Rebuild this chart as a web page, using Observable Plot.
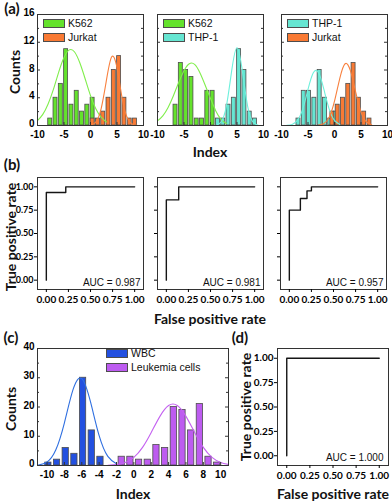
<!DOCTYPE html>
<html><head><meta charset="utf-8">
<script src="https://cdn.jsdelivr.net/npm/d3@7"></script>
<script src="https://cdn.jsdelivr.net/npm/@observablehq/plot@0.6"></script>
<style>
html,body{margin:0;padding:0;background:#fff;}
#fig{position:relative;width:392px;height:502px;overflow:hidden;background:#fff;}
#fig svg{position:absolute;left:0;top:0;}
.leg{position:absolute;font-family:'Liberation Sans',Arial,sans-serif;font-size:10.5px;color:#111;white-space:nowrap;line-height:1;}
.sw{position:absolute;box-sizing:border-box;border:1px solid #4d4d4d;}
</style></head><body><div id="fig"></div>
<script>
// ---------- DATA ----------
// (a) histograms: bin centres and counts
const a1K562Bins = [-7.6, -6.6, -5.6, -4.6, -3.6, -2.6, -1.6, -0.6, 0.4];
const a1K562 = [1, 4, 6, 11, 3, 5, 2, 3, 4];
const a1JurkatBins = [0.4, 1.4, 2.4, 3.4, 4.4, 5.4, 6.4, 7.4, 8.4];
const a1Jurkat = [1, 1, 2, 4, 8, 10, 4, 1, 1];
const a2K562Bins = [-6.6, -5.6, -4.6, -3.6, -2.6, -1.6, -0.6, 0.4];
const a2K562 = [3, 9, 8, 7, 1, 1, 5, 5];
const a2THPBins = [1.4, 2.4, 3.4, 4.4, 5.4, 6.4, 7.4, 8.4];
const a2THP = [1, 1, 3, 4, 11, 8, 2, 1];
const a3THPBins = [-6.8, -5.8, -4.8, -3.8, -2.8, -1.8, -0.8, 0.2];
const a3THP = [1, 5, 5, 4, 8, 4, 1, 2];
const a3JurkatBins = [-0.4, 0.6, 1.6, 2.6, 3.6, 4.6, 5.6, 6.6];
const a3Jurkat = [2, 3, 4, 6, 9, 4, 2, 1];
// (a) fitted curves
const a1K562FitX = [-10, -9, -8, -7, -6, -5, -4, -3, -2, -1, 0, 1, 2, 3];
const a1K562FitY = [0.7, 1.6, 3.1, 5.2, 7.7, 9.8, 10.9, 10.6, 9.0, 6.7, 4.3, 2.4, 1.2, 0.5];
const a1JurkatFitX = [0, 1, 2, 3, 4, 5, 6, 7, 8, 9];
const a1JurkatFitY = [0.06, 0.5, 2.4, 6.5, 9.9, 8.3, 3.8, 1.0, 0.15, 0.01];
const a2K562FitX = [-10, -9, -8, -7, -6, -5, -4, -3, -2, -1, 0, 1, 2, 3];
const a2K562FitY = [0.66, 1.4, 2.6, 4.3, 6.2, 7.9, 8.9, 8.8, 7.6, 5.8, 3.9, 2.1, 0.9, 0.3];
const a2THPFitX = [1, 2, 3, 4, 5, 6, 7, 8, 9];
const a2THPFitY = [0.04, 0.5, 2.8, 7.9, 11.2, 7.9, 2.8, 0.5, 0.04];
const a3THPFitX = [-9, -8, -7, -6, -5, -4, -3, -2, -1, 0, 1];
const a3THPFitY = [0.02, 0.15, 0.73, 2.36, 5.2, 7.6, 7.6, 5.2, 2.36, 0.73, 0.15];
const a3JurkatFitX = [-3, -2, -1, 0, 1, 2, 3, 4, 5, 6, 7];
const a3JurkatFitY = [0.05, 0.29, 1.2, 3.5, 6.8, 8.9, 7.9, 4.8, 1.95, 0.54, 0.1];
const aLegend = [["K562", "Jurkat"], ["K562", "THP-1"], ["THP-1", "Jurkat"]];
const aXTicks = [-10, -5, 0, 5, 10];
const aYTicks = [0, 4, 8, 12, 16];
const aYMinor = [2, 6, 10, 14];
// (b) ROC curves
const b1FPR = [0, 0, 0.22, 0.22, 1];
const b1TPR = [0, 0.94, 0.94, 1, 1];
const b2FPR = [0, 0, 0.14, 0.14, 1];
const b2TPR = [0, 0.86, 0.86, 1, 1];
const b3FPR = [0, 0, 0.125, 0.125, 0.2, 0.2, 0.25, 0.25, 1];
const b3TPR = [0, 0.75, 0.75, 0.875, 0.875, 0.957, 0.957, 1, 1];
const bAUC = ["0.987", "0.981", "0.957"];
const rocTicks = [0, 0.25, 0.5, 0.75, 1];
// (c) WBC vs leukemia
const cWBCBins = [-9.85, -8.85, -7.85, -6.85, -5.85, -4.85, -3.85];
const cWBC = [1, 2, 6, 4, 30, 12, 3];
const cLeukBins = [-1.4, -0.4, 0.6, 1.6, 2.6, 3.6, 4.6, 5.6, 6.6, 7.6, 8.6, 9.6];
const cLeuk = [3, 3, 2, 2, 7, 6, 20, 19, 12, 21, 3, 1];
const cWBCFitX = [-11, -10, -9, -8, -7, -6, -5, -4, -3, -2];
const cWBCFitY = [0.18, 1.2, 5.3, 14.6, 26, 29.7, 21.8, 10.2, 3.1, 0.6];
const cLeukFitX = [-3, -2, -1, 0, 1, 2, 3, 4, 5, 6, 7, 8, 9, 10, 11];
const cLeukFitY = [0.08, 0.31, 1.04, 2.8, 6.2, 11.3, 16.8, 20.5, 20.5, 16.8, 11.3, 6.2, 2.8, 1.04, 0.31];
const cLegend = ["WBC", "Leukemia cells"];
const cXTicks = [-10, -8, -6, -4, -2, 0, 2, 4, 6, 8, 10];
const cYTicks = [0, 10, 20, 30, 40];
const cYMinor = [5, 15, 25, 35];
// (d) ROC
const dFPR = [0, 0, 1];
const dTPR = [0, 1, 1];
const dAUC = "1.000";
// titles
const panelLetters = ["(a)", "(b)", "(c)", "(d)"];
const axisTitles = {counts: "Counts", index: "Index", tpr: "True positive rate", fpr: "False positive rate"};

// ---------- COLOURS ----------
const C = {
  green: "#64e22c", greenLine: "#80ee4c",
  orange: "#f97a34", orangeLine: "#f8803e",
  cyan: "#66e6d2", cyanLine: "#6ef0dc",
  blue: "#2350e0", blueLine: "#2f6fe0",
  purple: "#bd5cf0", purpleLine: "#c462f0"
};

// ---------- LAYOUT ----------
const W = 392, H = 502;
const fig = document.getElementById("fig");
function frameOpts(f) {
  return {width: W, height: H, marginLeft: f[0], marginRight: W - f[1], marginTop: f[2], marginBottom: H - f[3]};
}
const TICKFONT = "'Liberation Sans', Arial, sans-serif";
const zip = (xs, ys) => xs.map((x, i) => ({x, y: ys[i]}));

function histPanel(fr, cfg) {
  const fw = fr[1] - fr[0], fh = fr[3] - fr[2];
  const marks = [];
  cfg.series.forEach(s => {
    marks.push(Plot.rect(zip(s.bins, s.counts), {
      x1: d => d.x - cfg.barW / 2, x2: d => d.x + cfg.barW / 2, y1: 0, y2: "y",
      fill: s.color, stroke: "#4d4d4d", strokeWidth: 0.8
    }));
  });
  cfg.curves.forEach(c => {
    marks.push(Plot.line(zip(c.xs, c.ys), {x: "x", y: "y", stroke: c.color, strokeWidth: 1.1, curve: "natural", clip: true}));
  });
  marks.push(Plot.tickY(cfg.yTicks, {y: d => d, insetRight: fw - 3, stroke: "#333"}));
  marks.push(Plot.tickY(cfg.yTicks, {y: d => d, insetLeft: fw - 3, stroke: "#333"}));
  marks.push(Plot.tickY(cfg.yMinor, {y: d => d, insetRight: fw - 2, stroke: "#333"}));
  marks.push(Plot.tickY(cfg.yMinor, {y: d => d, insetLeft: fw - 2, stroke: "#333"}));
  marks.push(Plot.tickX(cfg.xTicks, {x: d => d, insetTop: fh - 3, stroke: "#333"}));
  marks.push(Plot.frame({stroke: "#333", strokeWidth: 1}));
  marks.push(Plot.axisX(cfg.xTicks, {tickSize: 0, tickPadding: 5.5, label: null, tickFormat: d => String(d),
    fontSize: 10, fontWeight: "bold", fontFamily: TICKFONT}));
  if (cfg.showY) marks.push(Plot.axisY(cfg.yTicks, {tickSize: 0, tickPadding: 3, dy: -1.5, label: null, tickFormat: d => String(d),
    fontSize: 10, fontWeight: "bold", fontFamily: TICKFONT}));
  const yOpt = {domain: cfg.yDomain, label: null};
  if (!cfg.showY) yOpt.axis = null;
  const svg = Plot.plot({...frameOpts(fr), x: {domain: cfg.xDomain, label: null}, y: yOpt, marks,
    style: {background: "transparent", overflow: "visible"}});
  fig.appendChild(svg);
}

function rocPanel(fr, cfg) {
  const marks = [
    Plot.frame({stroke: "#333", strokeWidth: 1}),
    Plot.line(zip(cfg.fpr, cfg.tpr), {x: "x", y: "y", stroke: "#151515", strokeWidth: 1.4}),
    Plot.text([cfg.auc], {text: d => `AUC = ${d}`, frameAnchor: "bottom-right", dx: cfg.dx, dy: cfg.dy,
      fontSize: 10, fontFamily: "'Liberation Sans Narrow', 'Arial Narrow', sans-serif", fill: "#111"}),
    Plot.axisX(rocTicks, {tickSize: 3, tickPadding: 3, label: null, tickFormat: d => d.toFixed(2),
      fontSize: 10, fontWeight: "bold", fontFamily: "Lato, sans-serif"}),
    Plot.axisY(rocTicks, {tickSize: 3, tickPadding: 1, label: null,
      tickFormat: cfg.showY ? (d => d.toFixed(2)) : (() => ""),
      fontSize: cfg.yFont, fontWeight: "bold", fontFamily: "Lato, sans-serif"})
  ];
  const svg = Plot.plot({...frameOpts(fr), x: {domain: [-0.1, 1.1], label: null}, y: {domain: [-0.1, 1.1], label: null}, marks,
    style: {background: "transparent", overflow: "visible"}});
  fig.appendChild(svg);
}

function legendItem(label, color, x, y, w, h) {
  const s = document.createElement("div");
  s.className = "sw";
  s.style.cssText += `left:${x}px;top:${y}px;width:${w}px;height:${h}px;background:${color};`;
  fig.appendChild(s);
  const t = document.createElement("div");
  t.className = "leg";
  t.textContent = label;
  t.style.left = (x + w + 3) + "px";
  t.style.top = (y + h / 2 - 5.5) + "px";
  fig.appendChild(t);
}

// ---------- (a) ----------
const aFrames = [[37, 143, 14, 125], [157, 263, 14, 125], [281, 387, 14, 125]];
const aCfg = [
  {series: [{bins: a1K562Bins, counts: a1K562, color: C.green}, {bins: a1JurkatBins, counts: a1Jurkat, color: C.orange}],
   curves: [{xs: a1K562FitX, ys: a1K562FitY, color: C.greenLine}, {xs: a1JurkatFitX, ys: a1JurkatFitY, color: C.orangeLine}],
   colors: [C.green, C.orange], showY: true},
  {series: [{bins: a2K562Bins, counts: a2K562, color: C.green}, {bins: a2THPBins, counts: a2THP, color: C.cyan}],
   curves: [{xs: a2K562FitX, ys: a2K562FitY, color: C.greenLine}, {xs: a2THPFitX, ys: a2THPFitY, color: C.cyanLine}],
   colors: [C.green, C.cyan], showY: false},
  {series: [{bins: a3THPBins, counts: a3THP, color: C.cyan}, {bins: a3JurkatBins, counts: a3Jurkat, color: C.orange}],
   curves: [{xs: a3THPFitX, ys: a3THPFitY, color: C.cyanLine}, {xs: a3JurkatFitX, ys: a3JurkatFitY, color: C.orangeLine}],
   colors: [C.cyan, C.orange], showY: false}
];
aCfg.forEach((cfg, i) => {
  histPanel(aFrames[i], {...cfg, xDomain: [-10, 10], yDomain: [0, 16], xTicks: aXTicks, yTicks: aYTicks, yMinor: aYMinor, barW: 0.75});
  aLegend[i].forEach((lab, j) => legendItem(lab, cfg.colors[j], aFrames[i][0] + 6, 19 + j * 14, 22, 8.5));
});

// ---------- (b) ----------
const bFrames = [[37, 143, 177, 289], [157, 263, 177, 289], [280, 386, 177, 289]];
const bData = [[b1FPR, b1TPR], [b2FPR, b2TPR], [b3FPR, b3TPR]];
bFrames.forEach((fr, i) => rocPanel(fr, {fpr: bData[i][0], tpr: bData[i][1], auc: bAUC[i], showY: i === 0, dx: -3, dy: -4, yFont: 9}));

// ---------- (c) ----------
histPanel([37, 228, 348, 465], {
  series: [{bins: cWBCBins, counts: cWBC, color: C.blue}, {bins: cLeukBins, counts: cLeuk, color: C.purple}],
  curves: [{xs: cWBCFitX, ys: cWBCFitY, color: C.blueLine}, {xs: cLeukFitX, ys: cLeukFitY, color: C.purpleLine}],
  xDomain: [-11.1, 10.9], yDomain: [0, 40], xTicks: cXTicks, yTicks: cYTicks, yMinor: cYMinor, barW: 0.72, showY: true
});
legendItem(cLegend[0], C.blue, 106, 349, 22, 9);
legendItem(cLegend[1], C.purple, 106, 363, 22, 9);

// ---------- (d) ----------
rocPanel([277, 388, 348, 465], {fpr: dFPR, tpr: dTPR, auc: dAUC, showY: true, dx: -5, dy: -5, yFont: 10});

// ---------- titles (SVG overlay) ----------
const ov = d3.select(fig).append("svg").attr("width", W).attr("height", H)
  .style("position", "absolute").style("left", 0).style("top", 0).style("overflow", "visible");
function title(str, cx, cy, size, rot) {
  ov.append("text").text(str)
    .attr("transform", `translate(${cx},${cy})` + (rot ? " rotate(-90)" : ""))
    .attr("text-anchor", "middle").attr("dominant-baseline", "central")
    .attr("font-family", "Lato, sans-serif").attr("font-weight", 700).attr("font-size", size)
    .attr("fill", "#111");
}
title(panelLetters[0], 12, 8, 15, false);
title(axisTitles.counts, 14, 72, 14, true);
title(axisTitles.index, 210, 151, 14, false);
title(panelLetters[1], 12, 164, 15, false);
title(axisTitles.tpr, 10, 237, 14, true);
title(axisTitles.fpr, 210, 318, 14, false);
title(panelLetters[2], 11, 337, 15, false);
title(axisTitles.counts, 10, 409, 14, true);
title(axisTitles.index, 133, 493, 14, false);
title(panelLetters[3], 240, 337, 15, false);
title(axisTitles.tpr, 245, 407, 14, true);
title(axisTitles.fpr, 333, 493, 14, false);
</script></body></html>
